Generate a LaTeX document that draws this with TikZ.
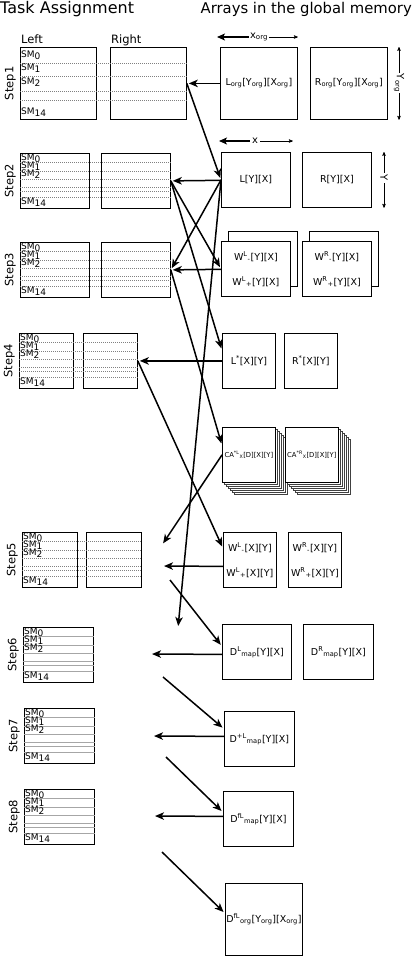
\documentclass[tikz,border=0pt]{standalone}
\usepackage{fontspec}
\setmainfont{DejaVu Sans}
\usetikzlibrary{arrows,arrows.meta}

\tikzset{
  tbox/.style={draw, line width=0.8pt, inner sep=0pt, anchor=north west, minimum height=55pt},
  abox/.style={draw, line width=0.8pt, fill=white, inner sep=0pt, anchor=north west, minimum height=55pt, align=center, font=\fontsize{9.5}{11}\selectfont},
  stack/.style={draw=black!75, line width=0.6pt, fill=white},
  smline/.style={gray, line width=0.5pt, dash pattern=on 1pt off 1pt},
  smsolid/.style={gray!70, line width=0.5pt},
  smlabel/.style={anchor=west, inner sep=1pt, font=\fontsize{9}{9}\selectfont},
  steplabel/.style={rotate=90, anchor=south, inner sep=1pt, font=\fontsize{11.5}{12}\selectfont},
  flow/.style={-{Stealth[length=9pt,width=7.5pt,inset=2.5pt]}, line width=1.5pt, shorten >=2pt},
  dimthin/.style={->, line width=0.5pt},
  dimbold/.style={-{Stealth[length=8pt,width=7pt,inset=2pt]}, line width=1.8pt},
}

\begin{document}
\begin{tikzpicture}[x=1pt, y=-1pt, >=stealth']
\useasboundingbox (0,0) rectangle (415,956);

% headings
\node[anchor=west, inner sep=0pt, font=\fontsize{16}{18}\selectfont] (taskhead) at (0,9) {Task Assignment};
\node[anchor=east, inner sep=0pt, font=\fontsize{14.8}{18}\selectfont] (arrhead) at (412,9) {Arrays in the global memory};

% task assignment boxes
\node[tbox, minimum width=76pt, minimum height=72pt] (L1) at (20,47) {};
\node[tbox, minimum width=76pt, minimum height=72pt] (R1) at (110,47) {};
\node[tbox, minimum width=69pt] (L2) at (20,153) {};
\node[tbox, minimum width=69pt] (R2) at (101,153) {};
\node[tbox, minimum width=69pt] (L3) at (20,242) {};
\node[tbox, minimum width=69pt] (R3) at (101,242) {};
\node[tbox, minimum width=54pt] (L4) at (19,333) {};
\node[tbox, minimum width=54pt] (R4) at (83,333) {};
\node[tbox, minimum width=55pt] (L5) at (22,532) {};
\node[tbox, minimum width=55pt] (R5) at (86,532) {};
\node[tbox, minimum width=70pt] (L6) at (23,627) {};
\node[tbox, minimum width=70pt] (L7) at (24,708) {};
\node[tbox, minimum width=70pt] (L8) at (24,789) {};

\node[anchor=base west, inner sep=1pt, font=\fontsize{11.5}{12}\selectfont] (lefthead) at ([yshift=4pt]L1.north west) {Left};
\node[anchor=base west, inner sep=1pt, font=\fontsize{11.5}{12}\selectfont] (righthead) at ([yshift=4pt]R1.north west) {Right};

% SM rows
\foreach \d in {16,29,44,53}
  \draw[smline] ([yshift=-\d pt]L1.north west) -- ([yshift=-\d pt]R1.north east);
\foreach \t/\e in {2/R2,3/R3,4/R4,5/R5}
  \foreach \d in {9,18,26,34,38,44}
    \draw[smline] ([yshift=-\d pt]L\t.north west) -- ([yshift=-\d pt]\e.north east);
\foreach \t in {6,7,8}
  \foreach \d in {9,18,26,34,38,44}
    \draw[smsolid] ([yshift=-\d pt]L\t.north west) -- ([yshift=-\d pt]L\t.north east);

\node[smlabel] (sm0-1) at ([yshift=-8pt]L1.north west) {SM\raisebox{-2.5pt}{0}};
\node[smlabel] (sm1-1) at ([yshift=-21pt]L1.north west) {SM\raisebox{-2.5pt}{1}};
\node[smlabel] (sm2-1) at ([yshift=-35pt]L1.north west) {SM\raisebox{-2.5pt}{2}};
\node[smlabel] (sm14-1) at ([yshift=-65pt]L1.north west) {SM\raisebox{-2.5pt}{14}};
\foreach \t in {2,...,8} {
  \node[smlabel] (sm0-\t) at ([yshift=-5pt]L\t.north west) {SM\raisebox{-2.5pt}{0}};
  \node[smlabel] (sm1-\t) at ([yshift=-13pt]L\t.north west) {SM\raisebox{-2.5pt}{1}};
  \node[smlabel] (sm2-\t) at ([yshift=-21pt]L\t.north west) {SM\raisebox{-2.5pt}{2}};
  \node[smlabel] (sm14-\t) at ([yshift=-49pt]L\t.north west) {SM\raisebox{-2.5pt}{14}};
}
\foreach \t in {1,...,8}
  \node[steplabel] (st\t) at ([xshift=-3pt]L\t.west) {Step\t};

% arrays in global memory
\node[abox, minimum width=77pt, minimum height=72pt] (Lorg) at (220,47) {L\textsubscript{org}[Y\textsubscript{org}][X\textsubscript{org}]};
\node[abox, minimum width=77pt, minimum height=72pt] (Rorg) at (310,47) {R\textsubscript{org}[Y\textsubscript{org}][X\textsubscript{org}]};
\node[abox, minimum width=69pt] (L) at (221,152) {L[Y][X]};
\node[abox, minimum width=69pt] (R) at (302,152) {R[Y][X]};
\draw[line width=0.8pt] (228,231) rectangle (297,286);
\draw[line width=0.8pt] (309,231) rectangle (378,286);
\node[abox, minimum width=69pt] (WL) at (221,241) {W\textsuperscript{L}\textsubscript{-}[Y][X]\\[14pt]W\textsuperscript{L}\textsubscript{+}[Y][X]};
\node[abox, minimum width=69pt] (WR) at (302,241) {W\textsuperscript{R}\textsubscript{-}[Y][X]\\[14pt]W\textsuperscript{R}\textsubscript{+}[Y][X]};
\node[abox, minimum width=53pt] (Ls) at (222,333) {L\textsuperscript{*}[X][Y]};
\node[abox, minimum width=53pt] (Rs) at (284,333) {R\textsuperscript{*}[X][Y]};
\foreach \k in {6,...,1} {
  \draw[stack] ({222+2*\k},{427+2*\k}) rectangle ++(53,55);
  \draw[stack] ({285+2*\k},{427+2*\k}) rectangle ++(53,55);
}
\node[abox, minimum width=53pt, font=\fontsize{6.8}{8}\selectfont] (CAL) at (222,427) {CA\textsuperscript{*L}\textsubscript{X}[D][X][Y]};
\node[abox, minimum width=53pt, font=\fontsize{6.8}{8}\selectfont] (CAR) at (285,427) {CA\textsuperscript{*R}\textsubscript{X}[D][X][Y]};
\node[abox, minimum width=53pt] (WL5) at (223,532) {W\textsuperscript{L}\textsubscript{-}[X][Y]\\[14pt]W\textsuperscript{L}\textsubscript{+}[X][Y]};
\node[abox, minimum width=53pt] (WR5) at (288,532) {W\textsuperscript{R}\textsubscript{-}[X][Y]\\[14pt]W\textsuperscript{R}\textsubscript{+}[X][Y]};
\node[abox, minimum width=69pt] (DLmap) at (222,624) {D\textsuperscript{L}\textsubscript{map}[Y][X]};
\node[abox, minimum width=70pt] (DRmap) at (303,624) {D\textsuperscript{R}\textsubscript{map}[Y][X]};
\node[abox, minimum width=70pt] (Dp) at (224,711) {D\textsuperscript{+L}\textsubscript{map}[Y][X]};
\node[abox, minimum width=70pt] (Df) at (223,791) {D\textsuperscript{fL}\textsubscript{map}[Y][X]};
\node[abox, minimum width=77pt, minimum height=72pt] (Dforg) at (225,883) {D\textsuperscript{fL}\textsubscript{org}[Y\textsubscript{org}][X\textsubscript{org}]};

% sizes
\node[inner sep=1pt, font=\fontsize{10}{11}\selectfont] (xorg) at (259,37) {x\textsubscript{org}};
\draw[dimbold] (xorg.west) -- ([xshift=-3pt]Lorg.north west |- xorg);
\draw[dimthin] (xorg.east) -- (Lorg.north east |- xorg);
\node[rotate=-90, inner sep=1pt, font=\fontsize{10}{11}\selectfont] (yorg) at (399,83) {Y\textsubscript{org}};
\draw[dimthin] (yorg.west) -- (yorg |- Rorg.north);
\draw[dimthin] (yorg.east) -- (yorg |- Rorg.south);
\node[inner sep=2pt, font=\fontsize{10}{11}\selectfont] (xs) at (255,141) {x};
\draw[dimbold] (xs.west) -- ([xshift=-2pt]L.north west |- xs);
\draw[dimthin] (xs.east) -- ([xshift=2pt]L.north east |- xs);
\node[rotate=-90, inner sep=2pt, font=\fontsize{10}{11}\selectfont] (ys) at (384,178) {Y};
\draw[dimthin] (ys.west) -- (ys |- R.north);
\draw[dimthin] (ys.east) -- (ys |- R.south);

% free ends
\coordinate (in5) at (162,545);
\coordinate (out5) at (162,566);
\coordinate (s5) at (170,580);
\coordinate (in6) at (178,628);
\coordinate (out6) at (150,654);
\coordinate (s6) at (163,677);
\coordinate (out7) at (152,736);
\coordinate (s7) at (166,757);
\coordinate (out8) at (153,816);
\coordinate (s8) at (162,852);

% data flow
\path[flow]
  (Lorg) edge (R1.east)
  (R1.east) edge (L.west)
  (L) edge (R2.east)
  (R2.east) edge (WL.west)
  (L.west) edge (R3.east)
  (WL) edge (R3.east)
  (R2.east) edge ([yshift=10.5pt]Ls.west)
  (R3.east) edge ([yshift=9.5pt]CAL.west)
  (Ls.west) edge (R4.east)
  (R4.east) edge ([yshift=11.5pt]WL5.west)
  (CAL.west) edge (in5)
  (L.west) edge (in6)
  ([yshift=-6.5pt]WL5.west) edge (out5)
  (s5) edge ([yshift=5.5pt]DLmap.west)
  ([yshift=-2.5pt]DLmap.west) edge (out6)
  (s6) edge ([yshift=10pt]Dp.west)
  ([yshift=2.5pt]Dp.west) edge (out7)
  (s7) edge ([yshift=6.5pt]Df.west)
  ([yshift=2.5pt]Df.west) edge (out8)
  (s8) edge ([yshift=6pt]Dforg.west);
\end{tikzpicture}
\end{document}
